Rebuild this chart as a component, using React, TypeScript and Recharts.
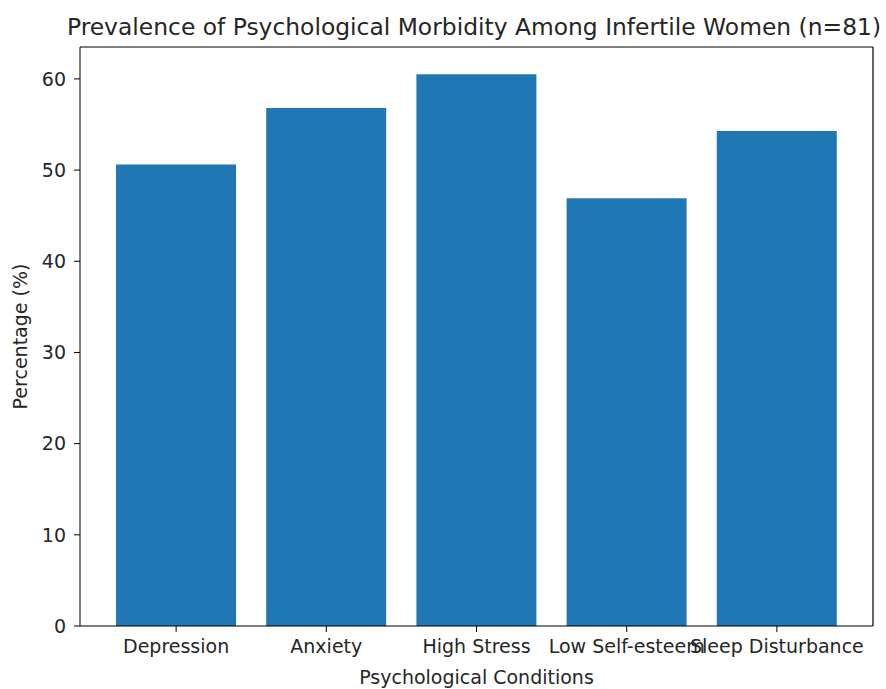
import { Bar, BarChart, ReferenceLine, XAxis, YAxis } from "recharts";

const categories = ["Depression", "Anxiety", "High Stress", "Low Self-esteem", "Sleep Disturbance"];
const percentages = [50.6, 56.8, 60.5, 46.9, 54.3];
const yTicks = [0, 10, 20, 30, 40, 50, 60];
const xTicks = [0, 1, 2, 3, 4];
const xDomain = [-0.64, 4.64];
const yDomain = [0, 63.5];

const data = categories.map((name, i) => ({ idx: i, name, pct: percentages[i] }));

const font = "'DejaVu Sans', sans-serif";
const ink = "#262626";
const fs = 19;

export default function App() {
  return (
    <div style={{ position: "absolute", left: 0, top: 0, width: 886, height: 689, background: "#fff", fontFamily: font, overflow: "hidden" }}>
      <div
        style={{
          position: "absolute",
          left: -26,
          width: 1000,
          top: 12,
          textAlign: "center",
          fontSize: 23.4,
          color: ink,
          whiteSpace: "nowrap",
          lineHeight: "30px",
        }}
      >
        Prevalence of Psychological Morbidity Among Infertile Women (n=81)
      </div>
      <BarChart
        width={886}
        height={689}
        data={data}
        margin={{ top: 47, right: 13, bottom: 0, left: 0 }}
        style={{ position: "absolute", left: 0, top: 0 }}
      >
        <XAxis
          type="number"
          dataKey="idx"
          domain={xDomain}
          ticks={xTicks}
          interval={0}
          tickFormatter={(i: number) => categories[i]}
          height={63}
          tickSize={6}
          tickMargin={8}
          stroke="#000"
          tick={{ fill: ink, fontSize: fs, fontFamily: font }}
          label={{ value: "Psychological Conditions", position: "insideBottom", offset: 5, fill: ink, fontSize: fs, fontFamily: font }}
        />
        <YAxis
          type="number"
          domain={yDomain}
          ticks={yTicks}
          width={80}
          tickSize={6}
          tickMargin={8}
          stroke="#000"
          tick={{ fill: ink, fontSize: fs, fontFamily: font }}
          label={{
            value: "Percentage (%)",
            angle: -90,
            position: "insideLeft",
            offset: 20,
            style: { textAnchor: "middle" },
            fill: ink,
            fontSize: fs,
            fontFamily: font,
          }}
        />
        <Bar dataKey="pct" fill="#1f77b4" barSize={120} isAnimationActive={false} />
        <ReferenceLine y={yDomain[1]} stroke="#000" strokeWidth={1.2} />
        <ReferenceLine x={xDomain[1]} stroke="#000" strokeWidth={1.2} />
      </BarChart>
    </div>
  );
}
